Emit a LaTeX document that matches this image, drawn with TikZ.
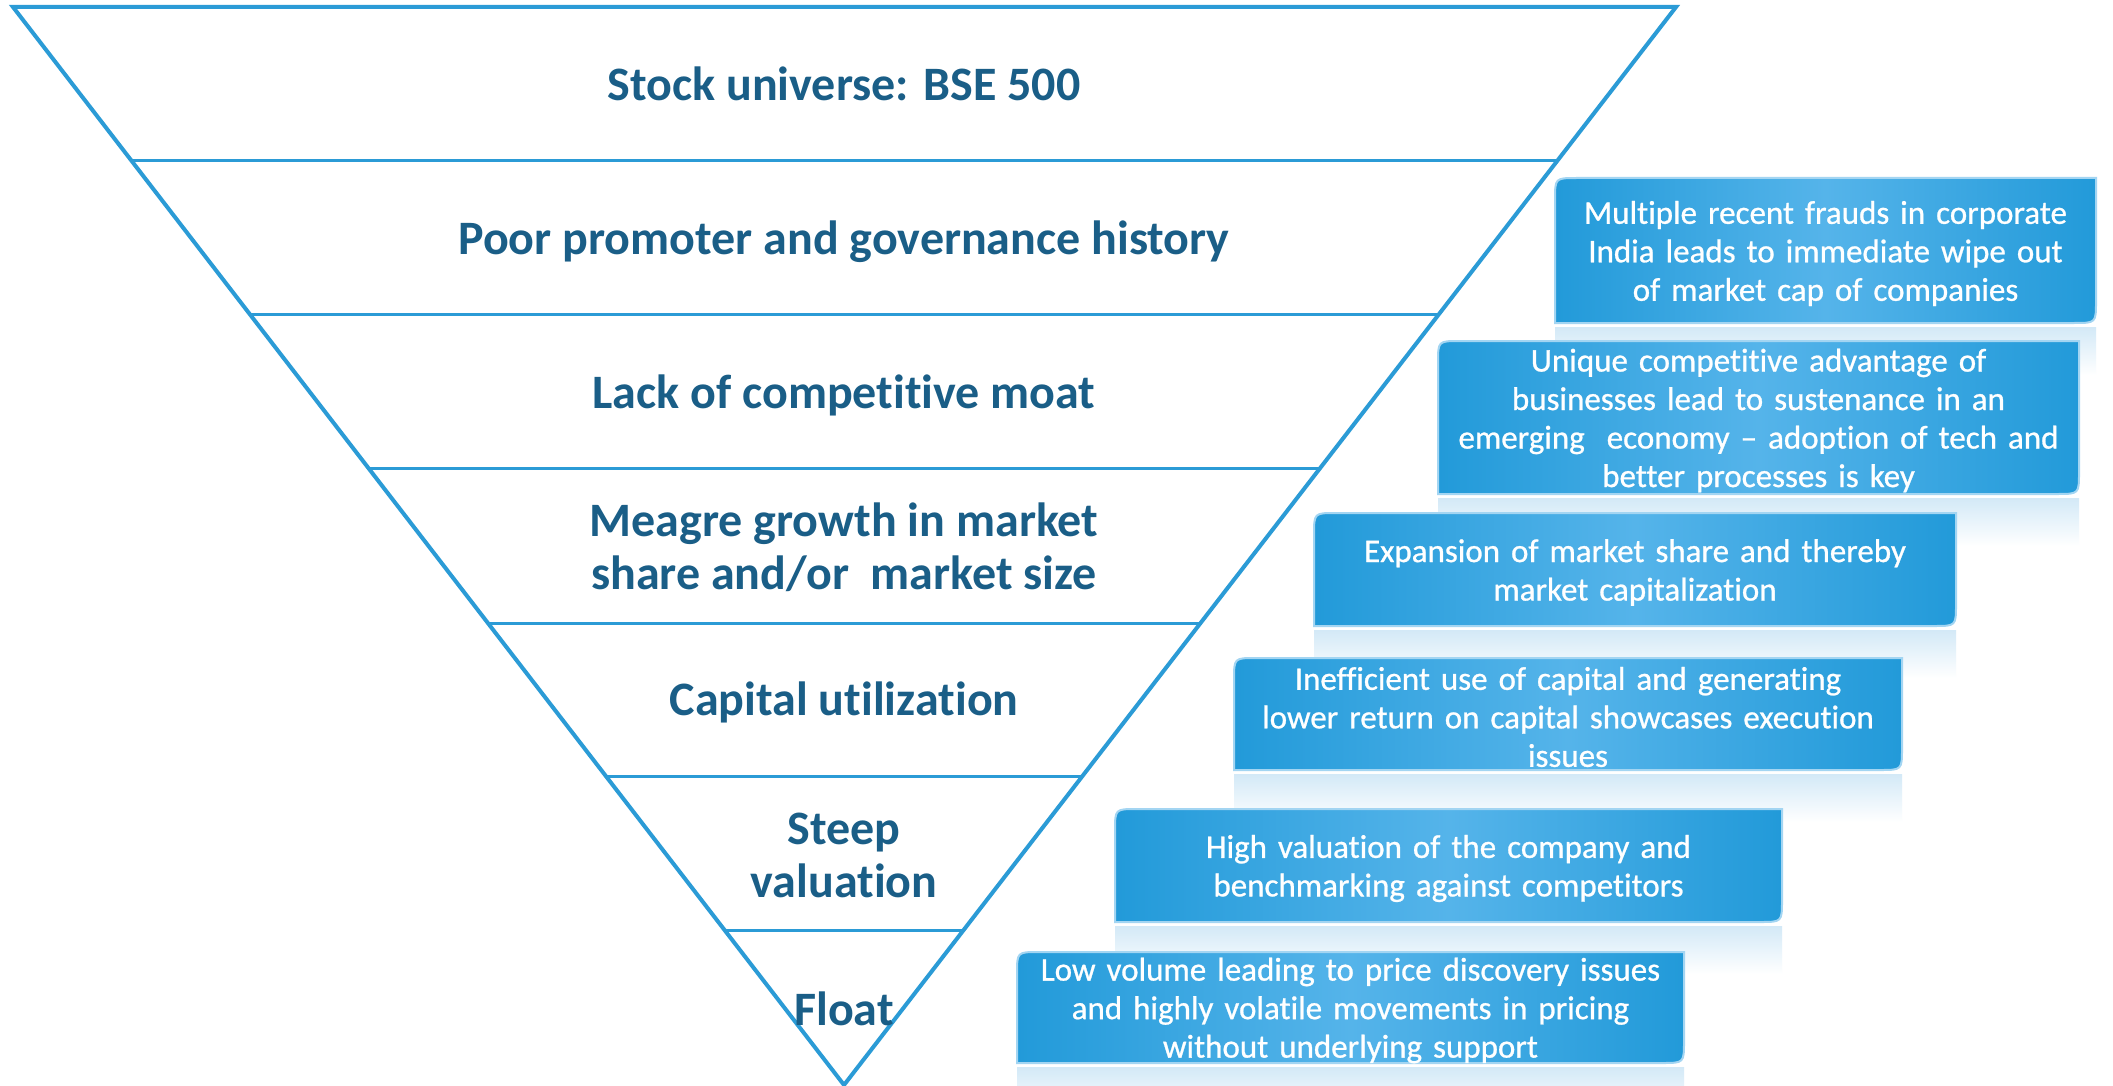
\documentclass[tikz,border=0pt]{standalone}
\usepackage{fontspec}
\setmainfont{Carlito}[RawFeature={-liga;-clig;-calt}]
\usetikzlibrary{calc}
\definecolor{linec}{HTML}{2B9BD6}
\definecolor{titlec}{HTML}{1A5E87}
\definecolor{boxdark}{HTML}{229AD9}
\definecolor{boxlight}{HTML}{55B4EA}
\definecolor{boxedge}{HTML}{A3D5F2}
\definecolor{reflc}{HTML}{D3E9F7}
\tikzset{
  edge/.style={draw=linec, line width=4pt, line join=miter},
  band/.style={draw=linec, line width=3pt},
  title/.style={text=titlec, font=\fontsize{48}{53}\selectfont\bfseries, align=center, inner sep=0pt},
  boxshape/.style={left color=boxdark, right color=boxdark, middle color=boxlight, draw=boxedge, line width=2pt},
  refl/.style={top color=reflc, bottom color=white, draw=none},
  boxtext/.style={text=white, font=\fontsize{33}{38.5}\selectfont\addfontfeature{FakeBold=0.8}, align=center, inner sep=0pt},
}
\newcommand{\reflbox}[3]{%
  \path[refl] (#1,#2+4) rectangle (#3,#2+52);
}
\newcommand{\infobox}[6]{%
  \path[boxshape] (#2,#5) -- (#2,#3+22) .. controls (#2,#3) .. (#2+22,#3) -- (#4,#3) -- (#4,#5-22) .. controls (#4,#5) .. (#4-22,#5) -- cycle;
  \node[boxtext, text width={#4-#2-16}, minimum width={#4-#2}, minimum height={#5-#3}] (#1) at ({(#2+#4)/2},{(#3+#5)/2+3}) {#6};
}
\begin{document}
\begin{tikzpicture}[x=1pt, y=-1pt]
\useasboundingbox (0,0) rectangle (2113,1086);
\fill[white] (0,0) rectangle (2113,1086);
% funnel
\coordinate (TL) at (13,7);
\coordinate (TR) at (1676,7);
\coordinate (AP) at (844,1085);
\foreach \k in {1,...,6}{
  \draw[band] ($(TL)!\k/7!(AP)$) -- ($(TR)!\k/7!(AP)$);
}
\draw[edge] (TL) -- (TR) -- (AP) -- cycle;
% titles
\node[title] (t1) at (844,84) {Stock universe: BSE 500};
\node[title] (t2) at (844,242) {Poor promoter and governance history};
\node[title] (t3) at (844,395) {Lack of competitive moat};
\node[title] (t4) at (844,547) {Meagre growth in market\\share and/or\ \ market size};
\node[title] (t5) at (844,702) {Capital utilization};
\node[title] (t6) at (844,855) {Steep\\valuation};
\node[title] (t7) at (844,1009) {Float};
% reflections
\reflbox{1555}{323}{2096}
\reflbox{1438}{494}{2079}
\reflbox{1314}{626}{1956}
\reflbox{1234}{770}{1902}
\reflbox{1115}{922}{1782}
\reflbox{1017}{1063}{1684}
% boxes
\infobox{b1}{1555}{178}{2096}{323}{Multiple recent frauds in corporate\\India leads to immediate wipe out\\of market cap of companies}
\infobox{b2}{1438}{341}{2079}{494}{Unique competitive advantage of\\businesses lead to sustenance in an\\emerging\ \ economy – adoption of tech and\\better processes is key}
\infobox{b3}{1314}{513}{1956}{626}{Expansion of market share and thereby\\market capitalization}
\infobox{b4}{1234}{658}{1902}{770}{Inefficient use of capital and generating\\lower return on capital showcases execution\\issues}
\infobox{b5}{1115}{809}{1782}{922}{High valuation of the company and\\benchmarking against competitors}
\infobox{b6}{1017}{952}{1684}{1063}{Low volume leading to price discovery issues\\and highly volatile movements in pricing\\without underlying support}
\end{tikzpicture}
\end{document}
